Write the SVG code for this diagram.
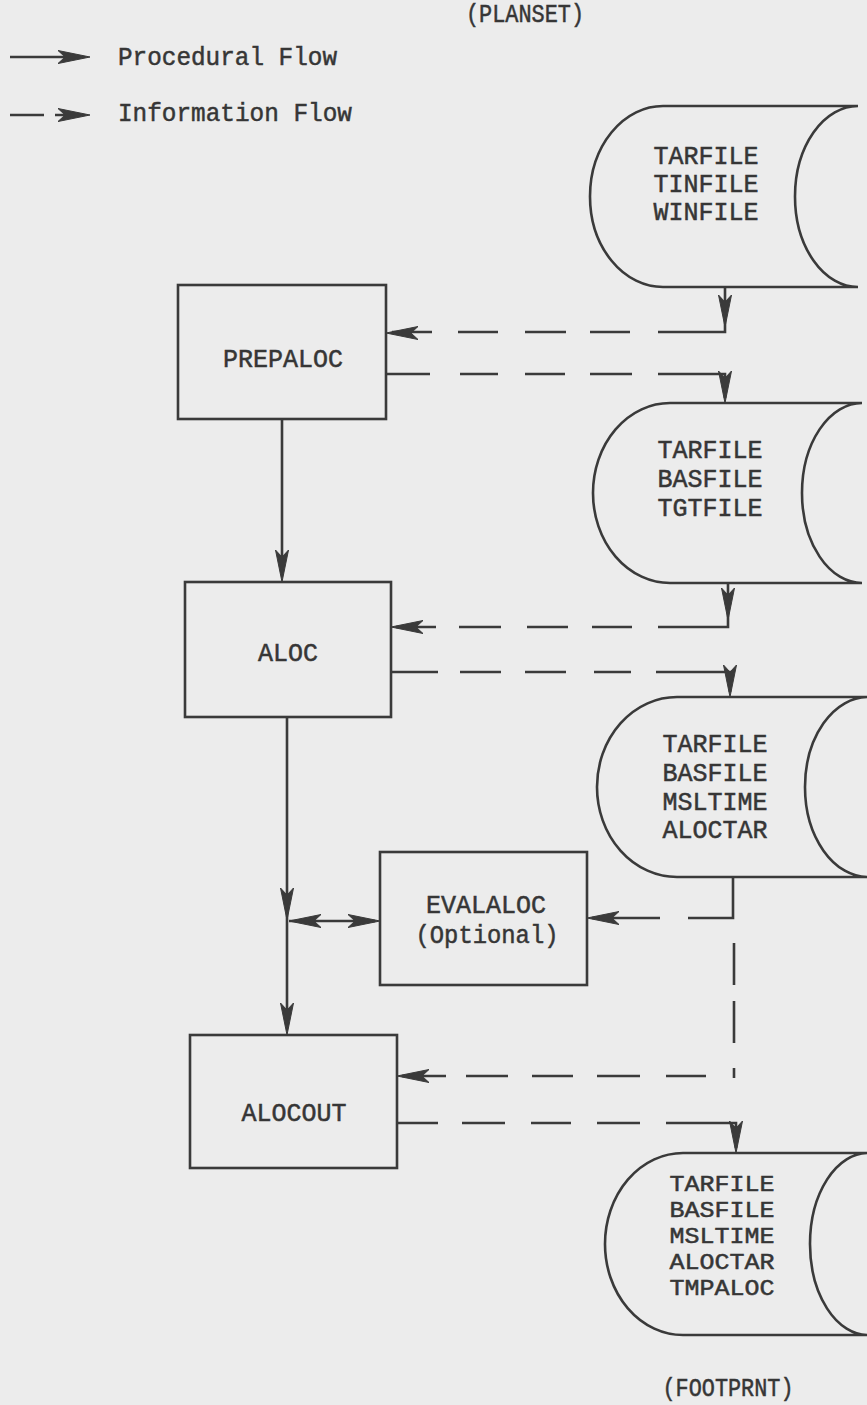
<svg xmlns="http://www.w3.org/2000/svg" xmlns:xlink="http://www.w3.org/1999/xlink" width="867" height="1405" viewBox="0 0 867 1405">
<style>
.bg{fill:#ececec}
.box{fill:none;stroke:#3a3a3a;stroke-width:2.6}
.file{fill:none;stroke:#3a3a3a;stroke-width:2.6}
.ln{fill:none;stroke:#3a3a3a;stroke-width:2.6}
.ah{fill:#3a3a3a;stroke:#3a3a3a;stroke-width:1;stroke-linejoin:round}
.t{font-family:"Liberation Mono","DejaVu Sans Mono",monospace;font-size:25px;fill:#363636;stroke:#363636;stroke-width:0.5px}
.s{font-size:22px}
.c{text-anchor:middle}
</style>
<defs>
<path id="ah" d="M0,0 L-32,-6.5 L-25,0 L-32,6.5 Z"/>
</defs>
<rect class="bg" x="0" y="0" width="867" height="1405"/>

<g id="legend">
<path class="ln" d="M10,57 H80"/>
<use href="#ah" class="ah" transform="translate(90,57)"/>
<text class="t" x="118" y="65" textLength="219" lengthAdjust="spacingAndGlyphs">Procedural Flow</text>
<path class="ln" d="M10,115 H44 M55,115 H80"/>
<use href="#ah" class="ah" transform="translate(90,115)"/>
<text class="t" x="118" y="121" textLength="234" lengthAdjust="spacingAndGlyphs">Information Flow</text>
</g>

<g id="planset"><text class="t c" x="525" y="22" textLength="118" lengthAdjust="spacingAndGlyphs">(PLANSET)</text></g>

<g id="file1">
<path class="file" d="M858,106 H663 A73,90.5 0 0 0 663,287 H858 A63,90.5 0 0 1 858,106 Z"/>
<text class="t c" x="706" y="164">TARFILE</text>
<text class="t c" x="706" y="192">TINFILE</text>
<text class="t c" x="706" y="220">WINFILE</text>
</g>

<g id="file2">
<path class="file" d="M862,403 H670 A77,90 0 0 0 670,583 H862 A60,90 0 0 1 862,403 Z"/>
<text class="t c" x="710" y="458">TARFILE</text>
<text class="t c" x="710" y="487">BASFILE</text>
<text class="t c" x="710" y="516">TGTFILE</text>
</g>

<g id="file3">
<path class="file" d="M868,697 H677 A80,90 0 0 0 677,877 H868 A63,90 0 0 1 868,697 Z"/>
<text class="t c" x="715" y="752">TARFILE</text>
<text class="t c" x="715" y="781">BASFILE</text>
<text class="t c" x="715" y="810">MSLTIME</text>
<text class="t c" x="715" y="838">ALOCTAR</text>
</g>

<g id="file4">
<path class="file" d="M868,1153 H683 A78,91 0 0 0 683,1335 H868 A58,91 0 0 1 868,1153 Z"/>
<text class="t s c" x="722" y="1191" textLength="105" lengthAdjust="spacingAndGlyphs">TARFILE</text>
<text class="t s c" x="722" y="1217" textLength="105" lengthAdjust="spacingAndGlyphs">BASFILE</text>
<text class="t s c" x="722" y="1243" textLength="105" lengthAdjust="spacingAndGlyphs">MSLTIME</text>
<text class="t s c" x="722" y="1269" textLength="105" lengthAdjust="spacingAndGlyphs">ALOCTAR</text>
<text class="t s c" x="722" y="1295" textLength="105" lengthAdjust="spacingAndGlyphs">TMPALOC</text>
</g>

<g id="footprnt"><text class="t c" x="728" y="1396" textLength="131" lengthAdjust="spacingAndGlyphs">(FOOTPRNT)</text></g>

<g id="prepaloc">
<rect class="box" x="178" y="285" width="208" height="134"/>
<text class="t c" x="283" y="367">PREPALOC</text>
</g>

<g id="aloc">
<rect class="box" x="185" y="582" width="206" height="135"/>
<text class="t c" x="288" y="661">ALOC</text>
</g>

<g id="evalaloc">
<rect class="box" x="380" y="852" width="207" height="133"/>
<text class="t c" x="486" y="913">EVALALOC</text>
<text class="t c" x="487" y="943" textLength="143" lengthAdjust="spacingAndGlyphs">(Optional)</text>
</g>

<g id="alocout">
<rect class="box" x="190" y="1035" width="207" height="133"/>
<text class="t c" x="294" y="1121">ALOCOUT</text>
</g>

<g id="connectors">
<path class="ln" d="M282,419 V575"/>
<use href="#ah" class="ah" transform="translate(282,582) rotate(90)"/>
<path class="ln" d="M287,717 V1028"/>
<use href="#ah" class="ah" transform="translate(287,920) rotate(90)"/>
<use href="#ah" class="ah" transform="translate(287,1035) rotate(90)"/>
<path class="ln" d="M289,921 H375"/>
<use href="#ah" class="ah" transform="translate(289,921) rotate(180)"/>
<use href="#ah" class="ah" transform="translate(380,921)"/>

<path class="ln" d="M725,287 V332 H658 M630,332 H590 M566,332 H525 M498,332 H458 M432,332 H392"/>
<use href="#ah" class="ah" transform="translate(725,327) rotate(90)"/>
<use href="#ah" class="ah" transform="translate(386,333) rotate(180)"/>

<path class="ln" d="M386,374 H430 M460,374 H498 M525,374 H565 M590,374 H632 M658,374 H725 V398"/>
<use href="#ah" class="ah" transform="translate(725,403) rotate(90)"/>

<path class="ln" d="M728,583 V627 H658 M632,627 H592 M568,627 H527 M501,627 H459 M436,627 H396"/>
<use href="#ah" class="ah" transform="translate(728,620) rotate(90)"/>
<use href="#ah" class="ah" transform="translate(391,627) rotate(180)"/>

<path class="ln" d="M391,672 H438 M460,672 H501 M525,672 H566 M594,672 H631 M656,672 H730 V692"/>
<use href="#ah" class="ah" transform="translate(730,697) rotate(90)"/>

<path class="ln" d="M733,877 V918 H688 M660,918 H592"/>
<use href="#ah" class="ah" transform="translate(587,918) rotate(180)"/>

<path class="ln" d="M734,943 V985 M734,1001 V1043 M734,1068 V1078 M706,1076 H666 M640,1076 H597 M573,1076 H532 M508,1076 H466 M446,1076 H402"/>
<use href="#ah" class="ah" transform="translate(397,1076) rotate(180)"/>

<path class="ln" d="M397,1123 H438 M462,1123 H505 M531,1123 H571 M597,1123 H640 M666,1123 H736 V1148"/>
<use href="#ah" class="ah" transform="translate(736,1153) rotate(90)"/>
</g>
</svg>
